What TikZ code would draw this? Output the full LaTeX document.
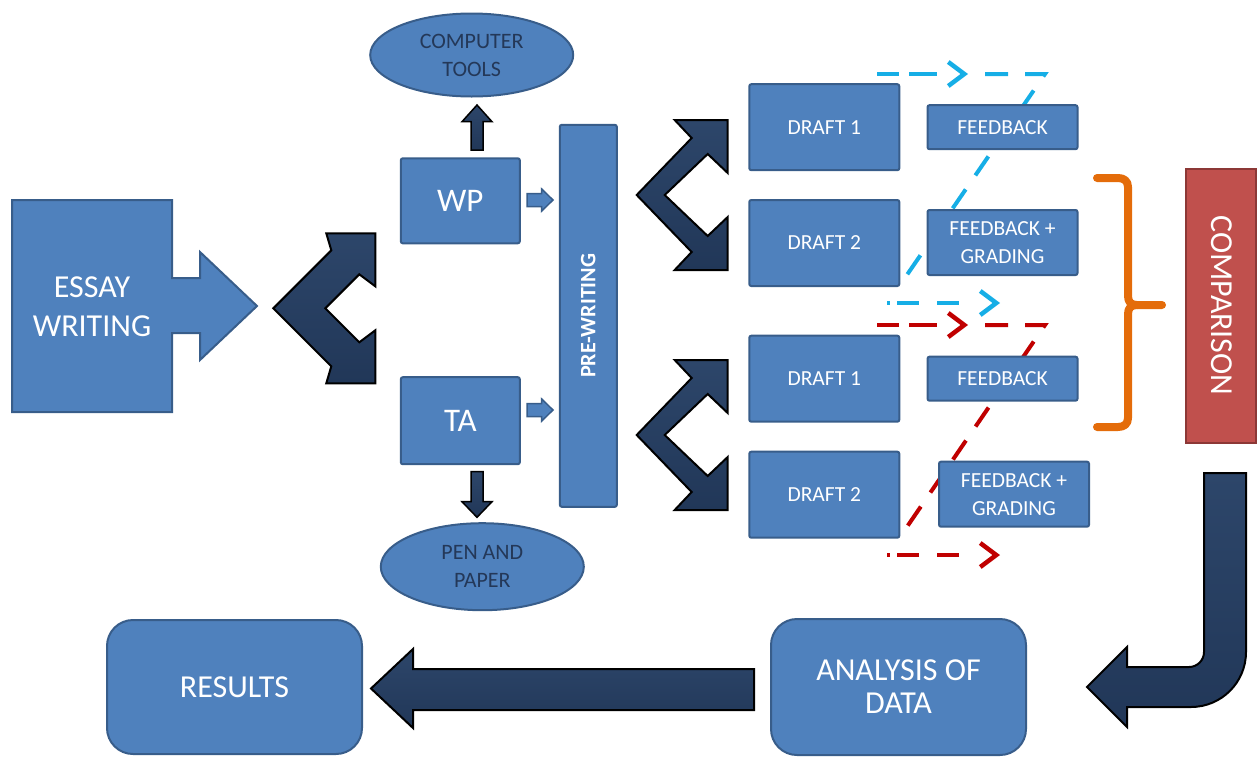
\documentclass[tikz,border=0pt]{standalone}
\usepackage{fontspec}
\setmainfont{Carlito}
\usetikzlibrary{shapes.geometric,arrows.meta,calc}
\definecolor{boxblue}{RGB}{79,129,189}
\definecolor{boxedge}{RGB}{56,93,138}
\definecolor{navyT}{RGB}{45,70,106}
\definecolor{navyB}{RGB}{33,55,88}
\definecolor{darktext}{RGB}{36,56,88}
\definecolor{compred}{RGB}{192,80,77}
\definecolor{compedge}{RGB}{140,56,54}
\definecolor{cyanl}{RGB}{22,174,230}
\definecolor{redl}{RGB}{192,0,0}
\definecolor{orangeb}{RGB}{228,108,10}
\begin{document}
\begin{tikzpicture}[x=1pt,y=-1pt,
  box/.style={draw=boxedge, fill=boxblue, line width=2pt, rounded corners=2pt, text=white, inner sep=0pt, align=center},
  bigbox/.style={box, rounded corners=26pt, font=\fontsize{32}{33}\selectfont},
  ell/.style={ellipse, draw=boxedge, fill=boxblue, line width=2pt, text=darktext, inner sep=0pt, align=center, font=\fontsize{22}{28}\selectfont},
  navyshape/.style={draw=black, line width=2pt, top color=navyT, bottom color=navyB, line join=miter},
  bluearrow/.style={draw=boxedge, fill=boxblue, line width=1.5pt, line join=miter},
  big/.style={font=\fontsize{32}{39}\selectfont},
  mid/.style={font=\fontsize{21.5}{28}\selectfont},
  dline/.style={line width=4pt, line cap=butt, line join=miter},
  tip/.style={-{Straight Barb[length=16pt,width=24pt,line width=4.5pt]}}
]
\useasboundingbox (0,0) rectangle (1258,756);

% ---------- dashed feedback paths (behind boxes) ----------
\coordinate (ca1) at (877,74);  \coordinate (ca2) at (968,74);
\coordinate (ca3) at (1045,74); \coordinate (ca4) at (900,285);
\coordinate (cb1) at (887,303); \coordinate (cb2) at (1000,303);
\coordinate (ra1) at (877,325);  \coordinate (ra2) at (968,325);
\coordinate (ra3) at (1045,325); \coordinate (ra4) at (900,537);
\coordinate (rb1) at (887,555); \coordinate (rb2) at (1000,555);

\draw[dline, cyanl, tip, dash pattern=on 22pt off 10pt on 28pt off 40pt] (ca1) -- (ca2);
\draw[dline, cyanl, dash pattern=on 23pt off 17pt, dash phase=23pt] (ca2) -- (ca3) -- (ca4);
\draw[dline, cyanl, tip, dash pattern=on 3pt off 7pt on 22pt off 18pt on 22pt off 40pt] (cb1) -- (cb2);

\draw[dline, redl, tip, dash pattern=on 22pt off 10pt on 28pt off 40pt] (ra1) -- (ra2);
\draw[dline, redl, dash pattern=on 23pt off 17pt, dash phase=23pt] (ra2) -- (ra3) -- (ra4);
\draw[dline, redl, tip, dash pattern=on 3pt off 7pt on 22pt off 18pt on 22pt off 40pt] (rb1) -- (rb2);

% ---------- essay writing block with arrow ----------
\draw[draw=boxedge, fill=boxblue, line width=2pt, line join=miter]
  (12,200) -- (172,200) -- (172,278) -- (200,278) -- (200,252) -- (257,306)
  -- (200,360) -- (200,333) -- (172,333) -- (172,412) -- (12,412) -- cycle;
\node[big, text=white, align=center] (essay) at (92,306.5) {ESSAY\\WRITING};

% ---------- big chevron ----------
\draw[navyshape, shift={(273.3,308.3)}]
  (0,0) -- (58,-58) -- (53,-75) -- (102,-75) -- (102,-22) -- (86,-34) -- (52,0)
  -- (86,34) -- (102,22) -- (102,75) -- (53,75) -- (58,58) -- cycle;

% ---------- WP / TA ----------
\node[box, font=\fontsize{33}{33}\selectfont, minimum width=119, minimum height=85] (wp) at (460.3,200.8) {WP};
\node[box, font=\fontsize{33}{33}\selectfont, minimum width=119, minimum height=87] (ta) at (460.3,420.7) {TA};
\node[ell, minimum width=203, minimum height=83] (ct) at (471.7,55) {COMPUTER\\TOOLS};
\node[ell, minimum width=203, minimum height=87] (pp) at (482.3,566.7) {PEN AND\\PAPER};

% up / down arrows
\draw[navyshape, line width=1.5pt] (471,150) -- (471,121.7) -- (462,121.7) -- (477,105) -- (492,121.7) -- (483,121.7) -- (483,150) -- cycle;
\draw[navyshape, line width=1.5pt] (471,471.7) -- (483,471.7) -- (483,501.7) -- (492,501.7) -- (477,517.3) -- (462,501.7) -- (471,501.7) -- cycle;

% small blue arrows to pre-writing
\draw[bluearrow] (527,193.5) -- (541.7,193.5) -- (541.7,189) -- (553,200) -- (541.7,211) -- (541.7,206.5) -- (527,206.5) -- cycle;
\draw[bluearrow] (527,403.5) -- (541.7,403.5) -- (541.7,399) -- (553,410) -- (541.7,421) -- (541.7,416.5) -- (527,416.5) -- cycle;

% ---------- pre-writing ----------
\node[box, rotate=90, minimum width=382, minimum height=57, font=\bfseries\fontsize{22}{26}\selectfont] (pre) at (588.3,315.8) {PRE-WRITING};

% ---------- right chevrons ----------
\foreach \vy in {195,435}{
\draw[navyshape, shift={(636.7,\vy)}]
  (0,0) -- (55,-57) -- (38,-75) -- (91,-75) -- (91,-22) -- (71,-41) -- (28,0)
  -- (71,41) -- (91,22) -- (91,75) -- (38,75) -- (55,57) -- cycle;
}

% ---------- drafts and feedback ----------
\node[box, mid, minimum width=150, minimum height=86] (d1a) at (824.3,127.2) {DRAFT 1};
\node[box, mid, minimum width=150, minimum height=86] (d2a) at (824.3,243) {DRAFT 2};
\node[box, mid, minimum width=150, minimum height=86] (d1b) at (824.3,378.7) {DRAFT 1};
\node[box, mid, minimum width=150, minimum height=86] (d2b) at (824.3,494.7) {DRAFT 2};
\node[box, mid, minimum width=150, minimum height=44] (fba) at (1002.5,127.2) {FEEDBACK};
\node[box, mid, minimum width=150, minimum height=65] (fga) at (1002.5,242.5) {FEEDBACK +\\GRADING};
\node[box, mid, minimum width=150, minimum height=44] (fbb) at (1002.5,378.7) {FEEDBACK};
\node[box, mid, minimum width=150, minimum height=65] (fgb) at (1014,494.2) {FEEDBACK +\\GRADING};

% ---------- brace and comparison ----------
\draw[orangeb, line width=8pt, line cap=round, line join=round]
  (1097,178) -- (1118,178) .. controls (1124,178) and (1128,181) .. (1128,187) -- (1128,296)
  .. controls (1128,302) and (1131,305) .. (1137,305) -- (1162,305);
\draw[orangeb, line width=8pt, line cap=round, line join=round]
  (1137,305) .. controls (1131,305) and (1128,308) .. (1128,314) -- (1128,418)
  .. controls (1128,424) and (1124,427) .. (1118,427) -- (1097,427);
\node[draw=compedge, fill=compred, line width=2pt, rotate=-90, minimum width=274, minimum height=70, inner sep=0pt, text=white, font=\fontsize{32}{32}\selectfont] (comp) at (1221.3,305.5) {COMPARISON};

% ---------- U-turn arrow ----------
\draw[navyshape] (1204,473) -- (1246,473) -- (1246,652)
  .. controls (1246,682.4) and (1221.4,707) .. (1191,707) -- (1127,707) -- (1127,727)
  -- (1087,687) -- (1127,647) -- (1127,667) -- (1189,667)
  .. controls (1197.3,667) and (1204,660.3) .. (1204,652) -- cycle;

% ---------- bottom row ----------
\node[bigbox, minimum width=255, minimum height=134] (res) at (234.5,687) {RESULTS};
\node[bigbox, minimum width=255, minimum height=136] (ana) at (898.5,687) {ANALYSIS OF\\DATA};
\draw[navyshape] (754,669) -- (413,669) -- (413,649) -- (371,688.5) -- (413,728) -- (413,710) -- (754,710) -- cycle;
\end{tikzpicture}
\end{document}
